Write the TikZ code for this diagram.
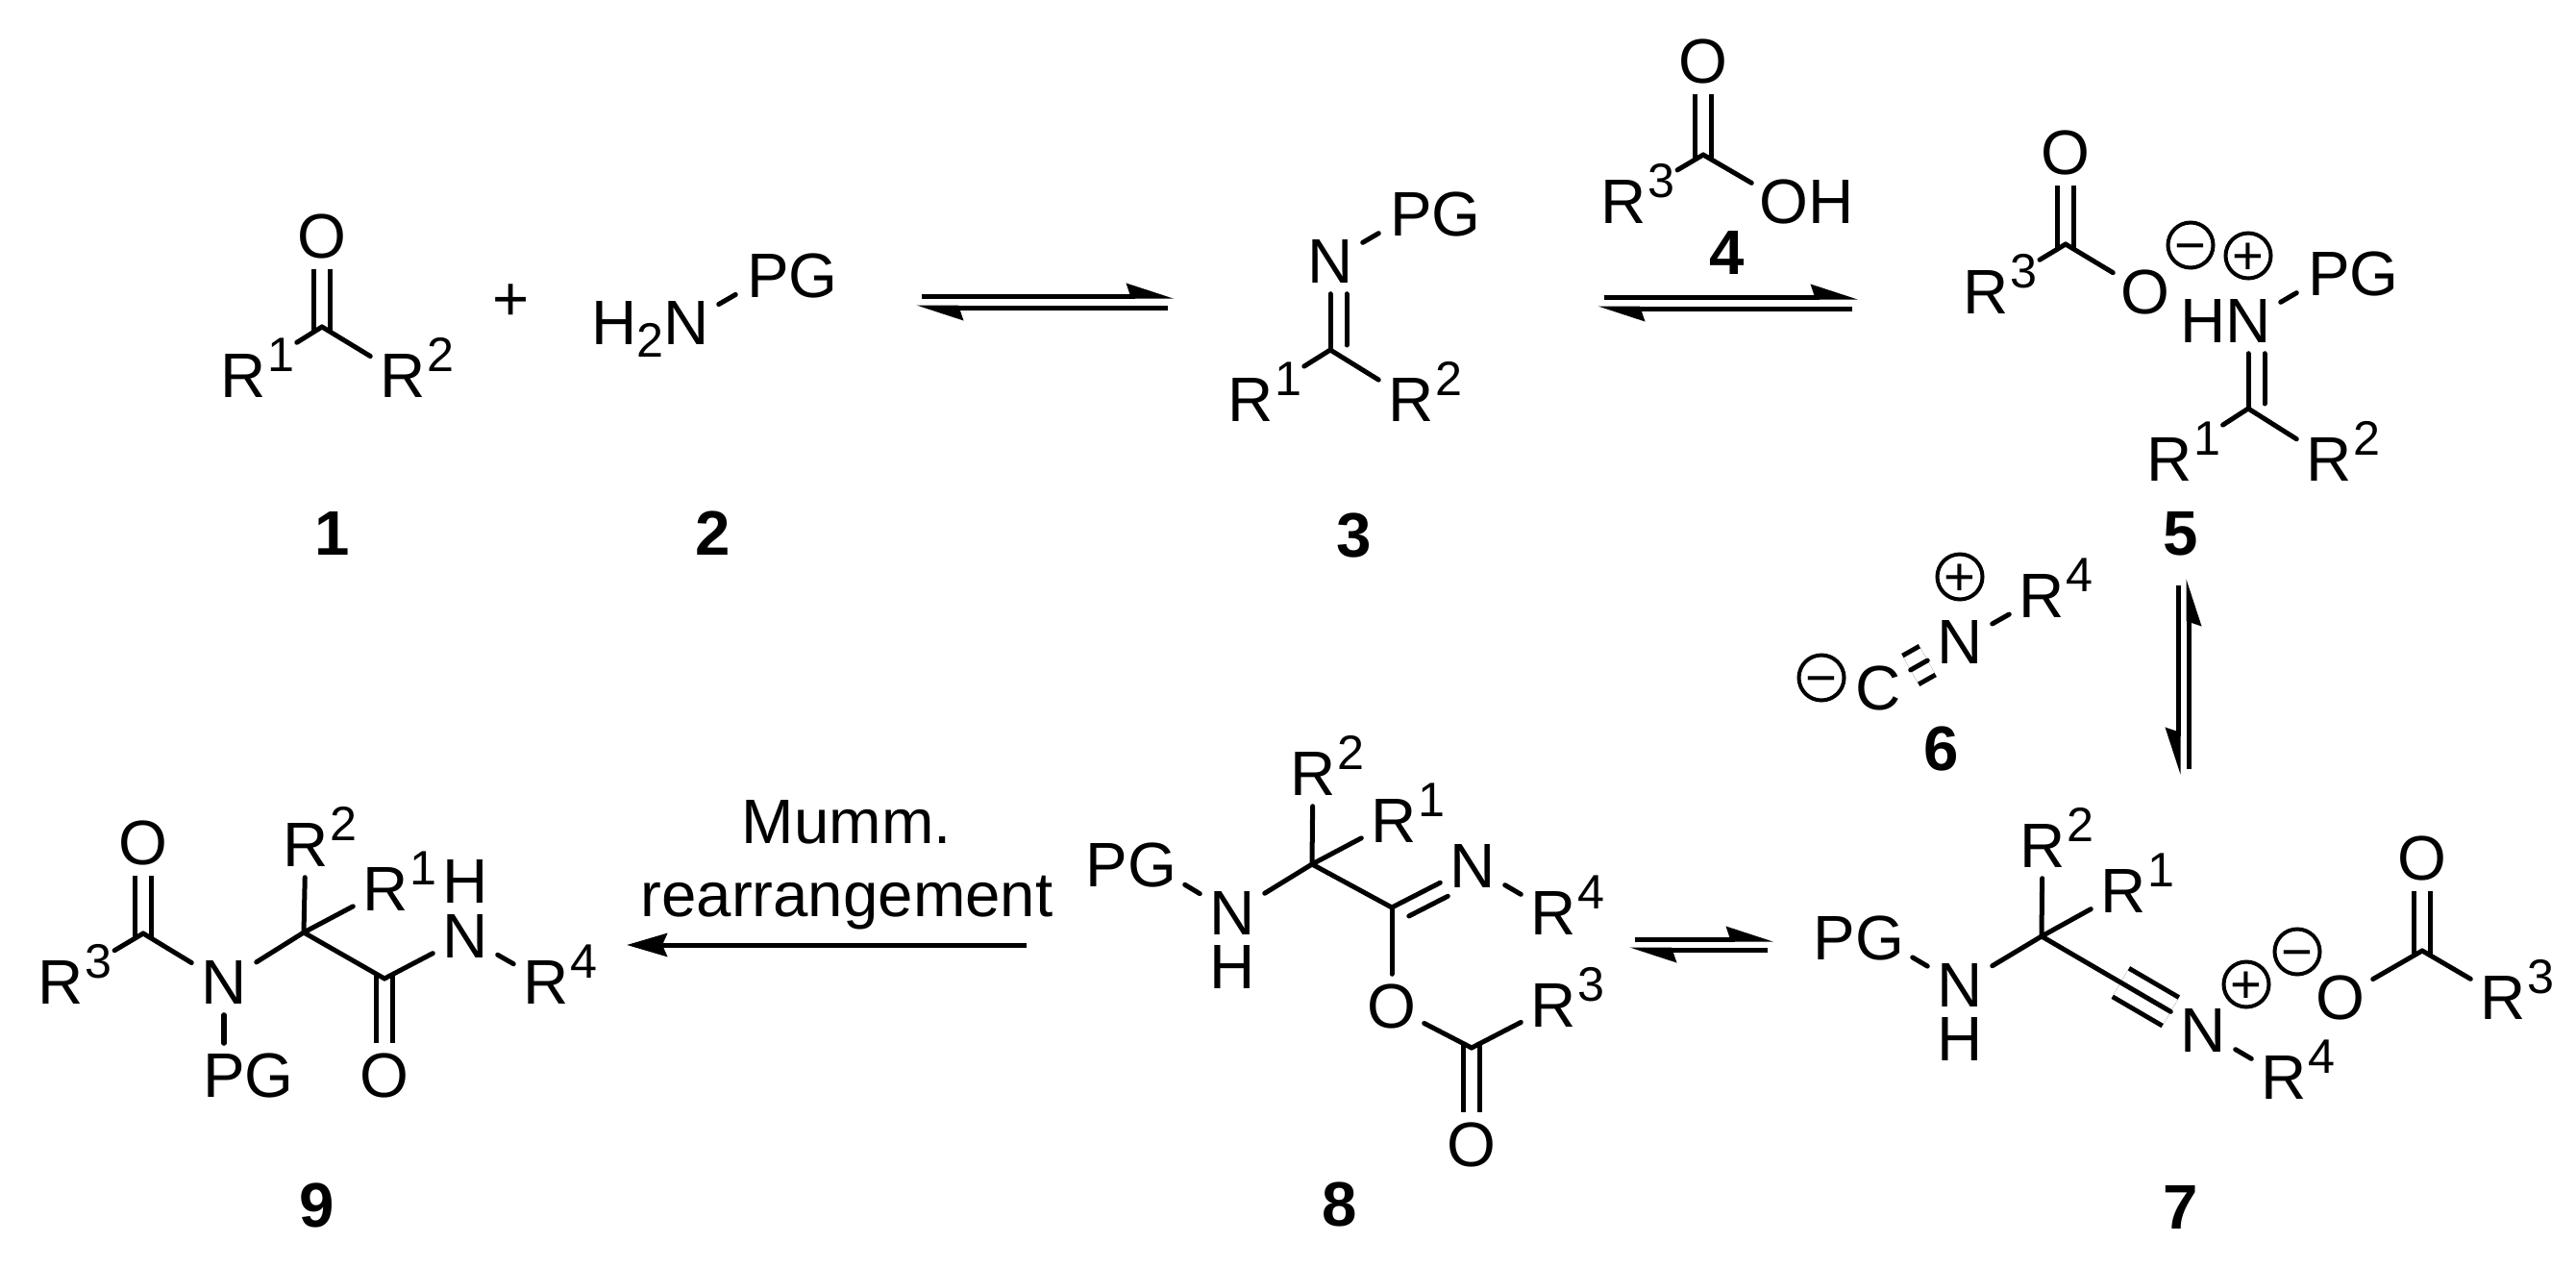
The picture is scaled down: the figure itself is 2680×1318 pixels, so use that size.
\documentclass[tikz,border=0pt]{standalone}
\usepackage{fontspec}
\setmainfont{Liberation Sans}
\usetikzlibrary{arrows.meta, calc}

\newcommand{\chemfont}{\fontsize{18.6}{21.5}\selectfont}
\newcommand{\smallfont}{\fontsize{14.3}{16}\selectfont}
\newcommand{\Rg}[1]{R\rlap{\smash{\kern.02cm\raisebox{.27cm}{\smallfont #1}}}}
\newcommand{\Chg}[1]{\smash{\lower.35em\hbox{#1}}}

\begin{document}
\begin{tikzpicture} [
    x=.01cm, y=-.01cm,
    every node/.style = {font=\chemfont},
    atom/.style = {rectangle, inner sep=0pt, minimum width=.66cm, minimum height=.66cm},
    cmpd/.style = {inner sep=0pt, font=\chemfont\bfseries},
    charge/.style = {circle, draw, line width=.04cm, minimum size=.47cm, inner sep=0pt, font=\fontsize{16}{17}\selectfont},
    bond/.style = {line width=.05cm, line cap=round},
    far/.style = {shorten >=.26cm},
    dbl/.style = {line width=.05cm, double, double distance=.12cm, shorten <=-.05cm},
    trip/.style = {line width=.05cm, double, double distance=.29cm},
    eqarrow/.style = {line width=.05cm, -{Stealth[harpoon, length=.41cm, width=.26cm, inset=.04cm]}},
    eqswap/.style = {line width=.05cm, -{Stealth[harpoon, swap, length=.41cm, width=.26cm, inset=.04cm]}}]
    \useasboundingbox (0,0) rectangle (2680,1318);

    % 1 + 2
    \coordinate (c1) at (335,340);
    \node (o1) [atom] at (335,246) {O};
    \node (r1a) [atom] at (253,391) {\Rg{1}};
    \node (r1b) [atom] at (419,391) {\Rg{2}};
    \node (plus) at (532,311) {\Chg{+}};
    \node (n2) [atom] at (714,336) {\llap{\smash{H\lower.13cm\hbox{\smallfont 2}}}N};
    \node (pg2) [atom] at (799,287) {P\rlap{G}};
    \node (lab1) [cmpd] at (346,555) {1};
    \node (lab2) [cmpd] at (742,555) {2};
    \draw [dbl] (c1) -- (o1);
    \path [bond]
        (c1) edge [far] (r1a)
        (c1) edge (r1b)
        (n2) edge (pg2);

    % 3
    \coordinate (c3) at (1384,364);
    \node (n3) [atom] at (1384,272) {N};
    \node (pg3) [atom] at (1468,223) {P\rlap{G}};
    \node (r3a) [atom] at (1301,416) {\Rg{1}};
    \node (r3b) [atom] at (1468,416) {\Rg{2}};
    \node (lab3) [cmpd] at (1409,557) {3};
    \draw [bond, shorten <=.05cm, transform canvas={xshift=.17cm}] (c3) -- (n3);
    \path [bond]
        (c3) edge (n3)
        (c3) edge [far] (r3a)
        (c3) edge (r3b)
        (n3) edge (pg3);

    % 4
    \coordinate (c4) at (1772,161);
    \node (o4) [atom] at (1772,64) {O};
    \node (r4) [atom] at (1689,210) {\Rg{3}};
    \node (oh4) [atom] at (1856,210) {O\rlap{H}};
    \node (lab4) [cmpd] at (1797,263) {4};
    \draw [dbl] (c4) -- (o4);
    \path [bond]
        (c4) edge [far] (r4)
        (c4) edge (oh4);

    % 5
    \coordinate (c5a) at (2149,254);
    \coordinate (c5b) at (2339,425);
    \node (o5a) [atom] at (2149,159) {O};
    \node (r5c) [atom] at (2066,304) {\Rg{3}};
    \node (o5b) [atom] at (2232,304) {O};
    \node (minus5) [charge] at (2279,255) {\Chg{−}};
    \node (plus5) [charge] at (2339,266) {\Chg{+}};
    \node (n5) [atom] at (2339,334) {\llap{H}N};
    \node (pg5) [atom] at (2423,285) {P\rlap{G}};
    \node (r5a) [atom] at (2257,478) {\Rg{1}};
    \node (r5b) [atom] at (2423,478) {\Rg{2}};
    \node (lab5) [cmpd] at (2269,555) {5};
    \draw [dbl] (c5a) -- (o5a);
    \draw [bond, shorten <=.05cm, transform canvas={xshift=.17cm}] (c5b) -- (n5);
    \path [bond]
        (c5a) edge [far] (r5c)
        (c5a) edge (o5b)
        (c5b) edge (n5)
        (c5b) edge [far] (r5a)
        (c5b) edge (r5b)
        (n5) edge (pg5);

    % 6
    \node (minus6) [charge] at (1895,705) {\Chg{−}};
    \node (c6) [atom] at (1954,716) {C};
    \node (n6) [atom] at (2039,668) {N};
    \node (plus6) [charge] at (2039,600) {\Chg{+}};
    \node (r6) [atom] at (2124,620) {\Rg{4}};
    \node (lab6) [cmpd] at (2020,779) {6};
    \draw [trip] (c6) -- (n6);
    \path [bond]
        (c6) edge (n6)
        (n6) edge (r6);

    % 7
    \coordinate (c7a) at (2124,974);
    \coordinate (c7b) at (2520,989);
    \node (pg7) [atom] at (1956,976) {\llap{P}G};
    \node (n7a) [atom] at (2039,1025) {N};
    \node (h7) [atom] at (2039,1081) {H};
    \node (r7b) [atom] at (2125,880) {\Rg{2}};
    \node (r7a) [atom] at (2209,927) {\Rg{1}};
    \node (n7b) [atom] at (2292,1072) {N};
    \node (r7d) [atom] at (2376,1121) {\Rg{4}};
    \node (plus7) [charge] at (2337,1024) {\Chg{+}};
    \node (minus7) [charge] at (2390,990) {\Chg{−}};
    \node (o7a) [atom] at (2435,1038) {O};
    \node (o7b) [atom] at (2520,893) {O};
    \node (r7c) [atom] at (2604,1038) {\Rg{3}};
    \node (lab7) [cmpd] at (2269,1256) {7};
    \draw [trip] ($(c7a)!.49!(n7b)$) -- (n7b);
    \draw [dbl] (c7b) -- (o7b);
    \path [bond]
        (pg7) edge (n7a)
        (n7a) edge (c7a)
        (c7a) edge (r7b)
        (c7a) edge (r7a)
        (c7a) edge (n7b)
        (n7b) edge (r7d)
        (o7a) edge (c7b)
        (c7b) edge (r7c);

    % 8
    \coordinate (c8a) at (1365,899);
    \coordinate (c8b) at (1448,944);
    \coordinate (c8c) at (1531,1090);
    \node (pg8) [atom] at (1199,900) {\llap{P}G};
    \node (n8a) [atom] at (1282,950) {N};
    \node (h8) [atom] at (1282,1006) {H};
    \node (r8b) [atom] at (1366,805) {\Rg{2}};
    \node (r8a) [atom] at (1450,854) {\Rg{1}};
    \node (n8b) [atom] at (1532,901) {N};
    \node (r8d) [atom] at (1616,950) {\Rg{4}};
    \node (o8a) [atom] at (1448,1047) {O};
    \node (r8c) [atom] at (1616,1046) {\Rg{3}};
    \node (o8b) [atom] at (1531,1191) {O};
    \node (lab8) [cmpd] at (1394,1253) {8};
    \draw [dbl] (c8c) -- (o8b);
    \draw [bond, shorten <=.11cm, transform canvas={shift={(.08cm,-.14cm)}}] (c8b) -- (n8b);
    \path [bond]
        (pg8) edge (n8a)
        (n8a) edge (c8a)
        (c8a) edge (r8b)
        (c8a) edge (r8a)
        (c8a) edge (c8b)
        (c8b) edge (n8b)
        (n8b) edge (r8d)
        (c8b) edge (o8a)
        (o8a) edge (c8c)
        (c8c) edge (r8c);

    % 9
    \coordinate (c9a) at (149,971);
    \coordinate (c9b) at (316,970);
    \coordinate (c9c) at (400,1018);
    \node (o9a) [atom] at (149,877) {O};
    \node (r9c) [atom] at (63,1022) {\Rg{3}};
    \node (n9a) [atom] at (233,1022) {N};
    \node (pg9) [atom] at (233,1119) {P\rlap{G}};
    \node (r9b) [atom] at (318,879) {\Rg{2}};
    \node (r9a) [atom] at (401,925) {\Rg{1}};
    \node (o9b) [atom] at (400,1119) {O};
    \node (n9b) [atom] at (484,974) {N};
    \node (h9) [atom] at (484,917) {H};
    \node (r9d) [atom] at (568,1022) {\Rg{4}};
    \node (lab9) [cmpd] at (330,1254) {9};
    \draw [dbl] (c9a) -- (o9a);
    \draw [dbl] (c9c) -- (o9b);
    \path [bond]
        (c9a) edge [far] (r9c)
        (c9a) edge (n9a)
        (n9a) edge (pg9)
        (n9a) edge (c9b)
        (c9b) edge (r9b)
        (c9b) edge (r9a)
        (c9b) edge (c9c)
        (c9c) edge (n9b)
        (n9b) edge (r9d);

    % arrows
    \coordinate (eq1a) at (959,308);
    \coordinate (eq1b) at (1221,308);
    \coordinate (eq1c) at (1215,320);
    \coordinate (eq1d) at (953,320);
    \coordinate (eq2a) at (1669,309);
    \coordinate (eq2b) at (1933,309);
    \coordinate (eq2c) at (1927,321);
    \coordinate (eq2d) at (1662,321);
    \coordinate (eq3a) at (2266,609);
    \coordinate (eq3b) at (2266,806);
    \coordinate (eq3c) at (2277,800);
    \coordinate (eq3d) at (2277,602);
    \coordinate (eq4a) at (1701,977);
    \coordinate (eq4b) at (1845,977);
    \coordinate (eq4c) at (1839,988);
    \coordinate (eq4d) at (1695,988);
    \coordinate (arr5a) at (1068,983);
    \coordinate (arr5b) at (652,983);
    \node (mumm) [align=center, inner sep=0pt] at (881,900) {Mumm.\\rearrangement};
    \draw [eqarrow] (eq1a) -- (eq1b);
    \draw [eqarrow] (eq1c) -- (eq1d);
    \draw [eqarrow] (eq2a) -- (eq2b);
    \draw [eqarrow] (eq2c) -- (eq2d);
    \draw [eqswap] (eq3a) -- (eq3b);
    \draw [eqswap] (eq3c) -- (eq3d);
    \draw [eqarrow] (eq4a) -- (eq4b);
    \draw [eqarrow] (eq4c) -- (eq4d);
    \draw [line width=.05cm, -{Stealth[length=.42cm, width=.24cm, inset=.05cm]}] (arr5a) -- (arr5b);
\end{tikzpicture}
\end{document}
